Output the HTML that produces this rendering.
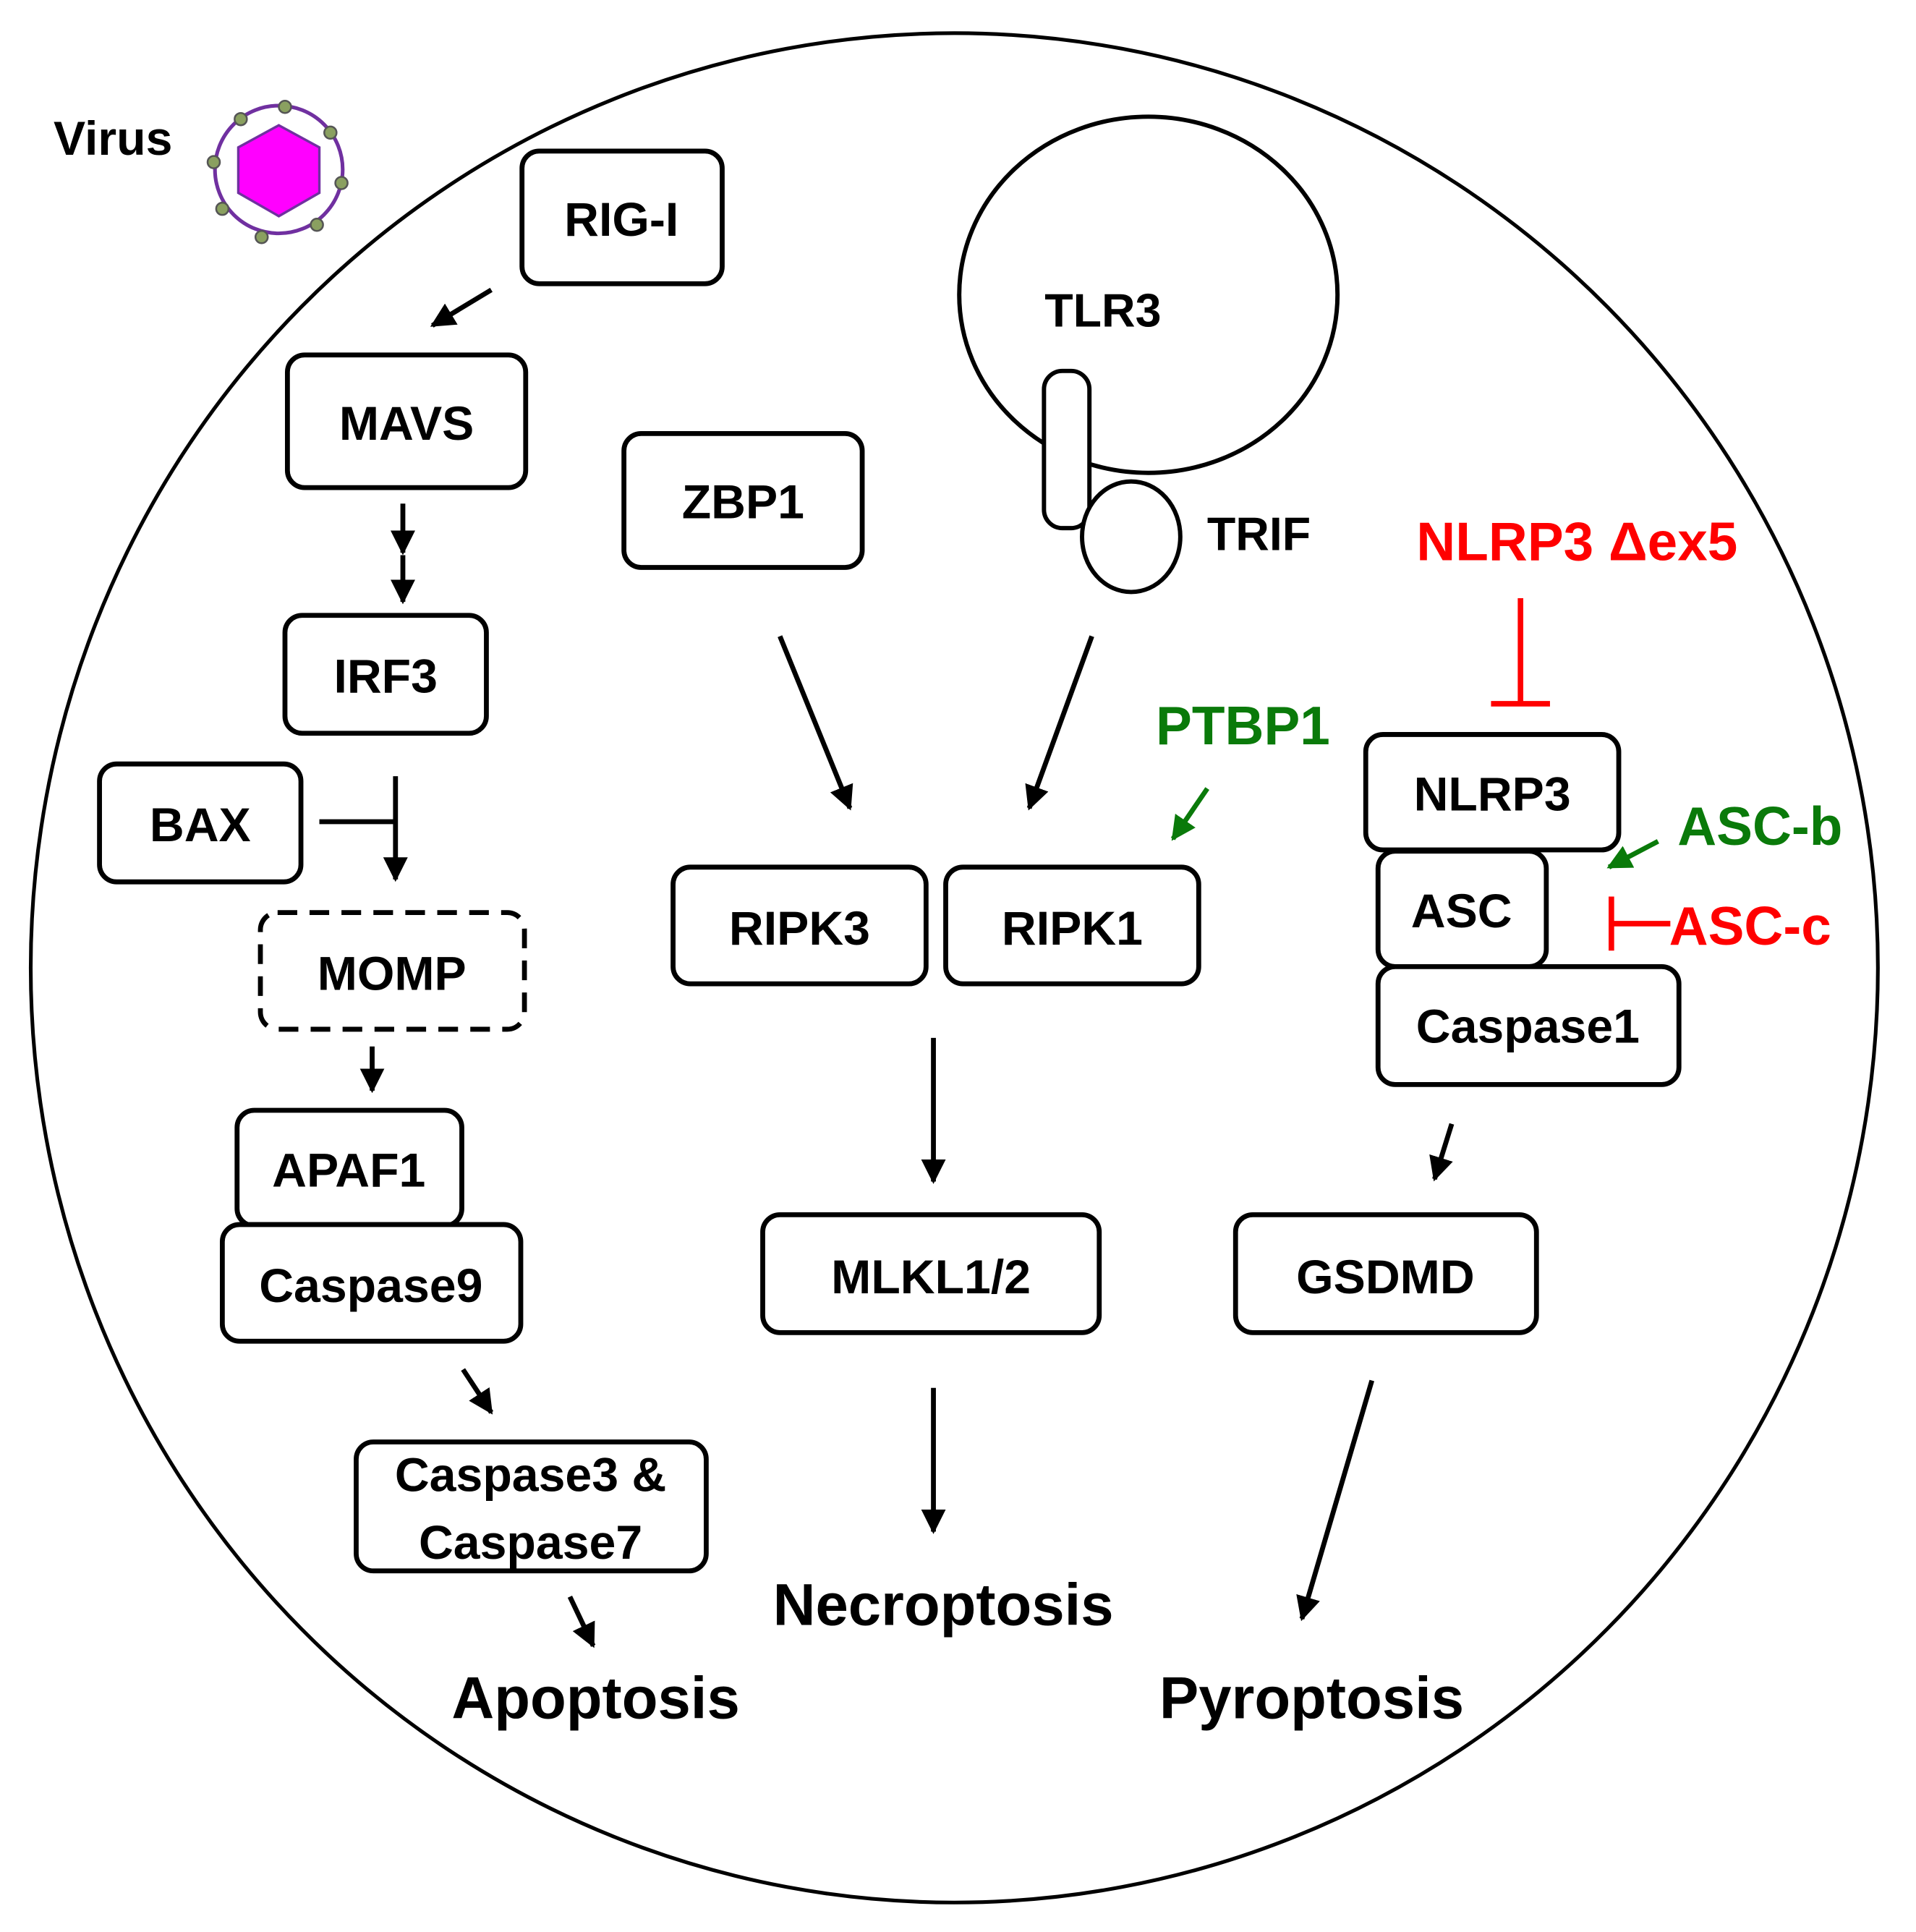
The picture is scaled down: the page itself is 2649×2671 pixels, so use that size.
<!DOCTYPE html>
<html><head><meta charset="utf-8"><style>html,body{margin:0;padding:0;background:#fff}svg{display:block}</style></head>
<body>
<svg width="2649" height="2671" viewBox="0 0 1560 1573" xmlns="http://www.w3.org/2000/svg" font-family="Liberation Sans, sans-serif" font-weight="bold">
<defs>
<marker id="ak" viewBox="0 0 10 10" refX="9" refY="5" markerWidth="5" markerHeight="5" orient="auto"><path d="M0,0 L10,5 L0,10 z" fill="#000"/></marker>
<marker id="ag" viewBox="0 0 10 10" refX="9" refY="5" markerWidth="5" markerHeight="5" orient="auto"><path d="M0,0 L10,5 L0,10 z" fill="#0a7a0a"/></marker>
</defs>
<rect width="1560" height="1573" fill="#fff"/>
<ellipse cx="777" cy="788" rx="752" ry="761" fill="none" stroke="#000" stroke-width="3"/>
<g>
<circle cx="227" cy="138" r="52" fill="none" stroke="#7030a0" stroke-width="3"/>
<polygon points="227,102 260,120 260,157 227,176 194,157 194,120" fill="#ff00ff" stroke="#7030a0" stroke-width="2"/>
<g fill="#8aa060" stroke="#555" stroke-width="1.5">
<circle cx="232" cy="87" r="5"/><circle cx="269" cy="108" r="5"/><circle cx="278" cy="149" r="5"/><circle cx="258" cy="183" r="5"/><circle cx="213" cy="193" r="5"/><circle cx="181" cy="170" r="5"/><circle cx="174" cy="132" r="5"/><circle cx="196" cy="97" r="5"/>
</g>
</g>
<text x="92" y="126" font-size="39" text-anchor="middle">Virus</text>
<ellipse cx="935" cy="240" rx="154" ry="145" fill="none" stroke="#000" stroke-width="3.5"/>
<rect x="850" y="302" width="37" height="128" rx="15" fill="#fff" stroke="#000" stroke-width="3.5"/>
<ellipse cx="921" cy="437" rx="40" ry="45" fill="#fff" stroke="#000" stroke-width="3.5"/>
<text x="898" y="266" font-size="38" text-anchor="middle">TLR3</text>
<text x="1025" y="448" font-size="38" text-anchor="middle">TRIF</text>
<g fill="#fff" stroke="#000" stroke-width="4">
<rect x="425" y="123" width="163" height="108" rx="14"/>
<rect x="234" y="289" width="194" height="108" rx="14"/>
<rect x="508" y="353" width="194" height="109" rx="14"/>
<rect x="232" y="501" width="164" height="96" rx="14"/>
<rect x="81" y="622" width="164" height="96" rx="14"/>
<rect x="212" y="743" width="215" height="95" rx="14" stroke-dasharray="16,10"/>
<rect x="193" y="904" width="183" height="94" rx="14"/>
<rect x="181" y="997" width="243" height="95" rx="14"/>
<rect x="290" y="1174" width="285" height="105" rx="14"/>
<rect x="548" y="706" width="206" height="95" rx="14"/>
<rect x="770" y="706" width="206" height="95" rx="14"/>
<rect x="621" y="989" width="274" height="96" rx="14"/>
<rect x="1112" y="598" width="206" height="94" rx="14"/>
<rect x="1122" y="693" width="137" height="94" rx="14"/>
<rect x="1122" y="787" width="245" height="96" rx="14"/>
<rect x="1006" y="989" width="245" height="96" rx="14"/>
</g>
<g font-size="39" text-anchor="middle">
<text x="506" y="192">RIG-I</text>
<text x="331" y="358">MAVS</text>
<text x="605" y="422">ZBP1</text>
<text x="314" y="564">IRF3</text>
<text x="163" y="685">BAX</text>
<text x="319" y="806">MOMP</text>
<text x="284" y="966">APAF1</text>
<text x="302" y="1060">Caspase9</text>
<text x="432" y="1214">Caspase3 &amp;</text>
<text x="432" y="1269">Caspase7</text>
<text x="651" y="769">RIPK3</text>
<text x="873" y="769">RIPK1</text>
<text x="758" y="1053">MLKL1/2</text>
<text x="1215" y="660">NLRP3</text>
<text x="1190" y="755">ASC</text>
<text x="1244" y="849">Caspase1</text>
<text x="1128" y="1053">GSDMD</text>
</g>
<g font-size="48" text-anchor="middle">
<text x="768" y="1323">Necroptosis</text>
<text x="485" y="1399">Apoptosis</text>
<text x="1068" y="1399">Pyroptosis</text>
</g>
<g font-size="44">
<text x="1284" y="456" fill="#ff0000" text-anchor="middle">NLRP3 Δex5</text>
<text x="1012" y="606" fill="#0a7a0a" text-anchor="middle">PTBP1</text>
<text x="1433" y="688" fill="#0a7a0a" text-anchor="middle">ASC-b</text>
<text x="1425" y="769" fill="#ff0000" text-anchor="middle">ASC-c</text>
</g>
<g stroke="#000" stroke-width="4" fill="none" marker-end="url(#ak)">
<line x1="400" y1="236" x2="352" y2="265"/>
<line x1="328" y1="410" x2="328" y2="450"/>
<line x1="328" y1="452" x2="328" y2="490"/>
<line x1="322" y1="632" x2="322" y2="716"/>
<line x1="303" y1="852" x2="303" y2="888"/>
<line x1="377" y1="1115" x2="400" y2="1150"/>
<line x1="464" y1="1300" x2="483" y2="1340"/>
<line x1="635" y1="518" x2="692" y2="658"/>
<line x1="889" y1="518" x2="838" y2="658"/>
<line x1="760" y1="845" x2="760" y2="962"/>
<line x1="760" y1="1130" x2="760" y2="1247"/>
<line x1="1182" y1="915" x2="1168" y2="960"/>
<line x1="1117" y1="1124" x2="1060" y2="1318"/>
</g>
<line x1="260" y1="669" x2="322" y2="669" stroke="#000" stroke-width="4"/>
<g stroke="#0a7a0a" stroke-width="4" marker-end="url(#ag)">
<line x1="983" y1="642" x2="955" y2="683"/>
<line x1="1350" y1="685" x2="1310" y2="706"/>
</g>
<g stroke="#ff0000" stroke-width="4.5">
<line x1="1238" y1="487" x2="1238" y2="573"/>
<line x1="1214" y1="573" x2="1262" y2="573"/>
<line x1="1312" y1="730" x2="1312" y2="774"/>
<line x1="1312" y1="752" x2="1360" y2="752"/>
</g>
</svg>
</body></html>
